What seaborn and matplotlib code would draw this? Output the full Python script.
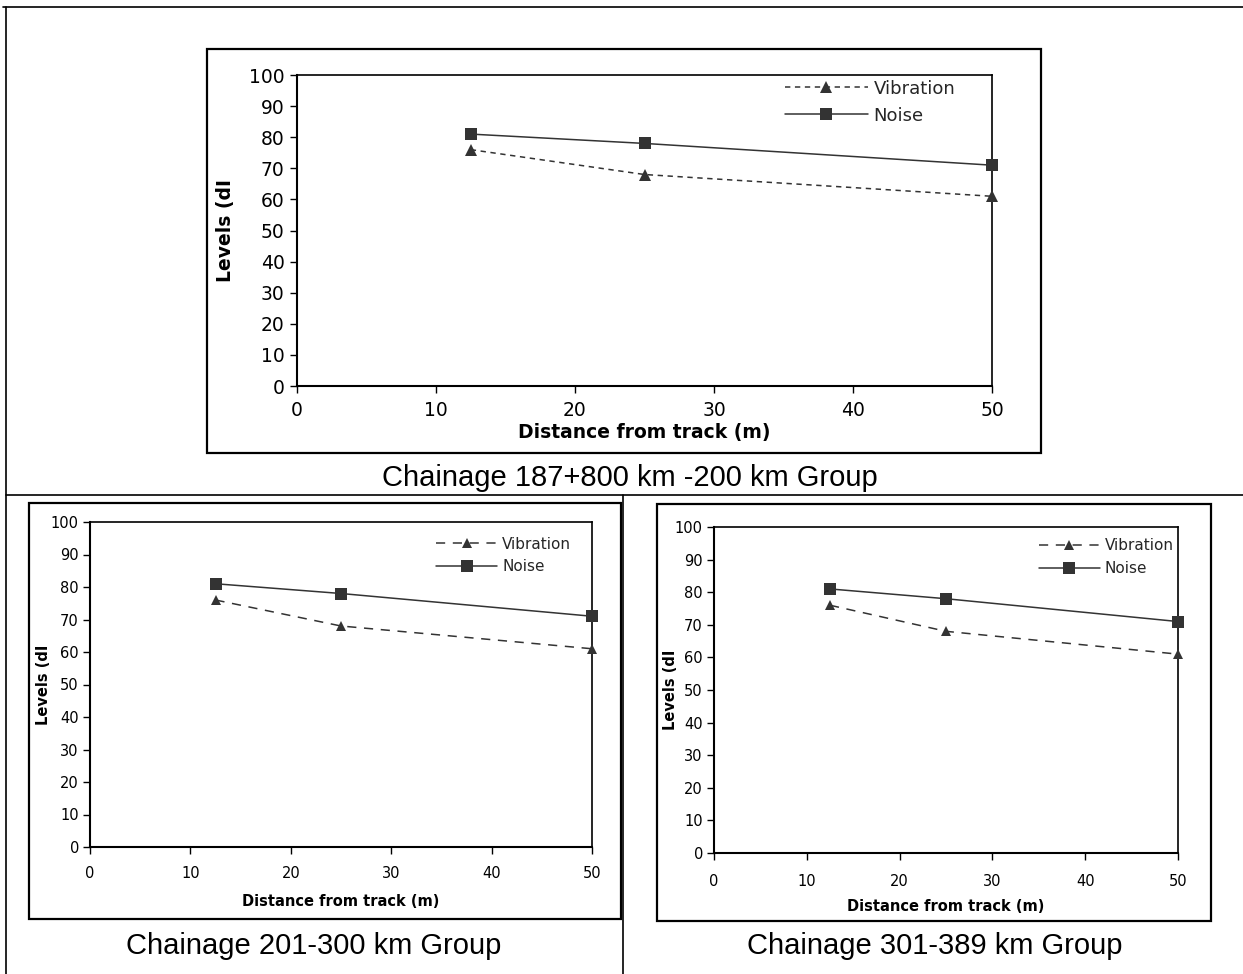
import matplotlib
matplotlib.use("Agg")
import matplotlib.pyplot as plt
import seaborn as sns
import pandas as pd
from matplotlib.lines import Line2D
from matplotlib.patches import Rectangle

# ---------------- data ----------------
distance = [12.5, 25, 50]
vibration = [76, 68, 61]
noise = [81, 78, 71]
series_names = ["Vibration", "Noise"]
captions = ["Chainage 187+800 km -200 km Group",
            "Chainage 201-300 km Group",
            "Chainage 301-389 km Group"]
x_label = "Distance from track (m)"
y_label = "Levels (dI"
x_ticks = [0, 10, 20, 30, 40, 50]
y_ticks = [0, 10, 20, 30, 40, 50, 60, 70, 80, 90, 100]

sns.set_theme(style="white")
plt.rcParams['font.family'] = ['DejaVu Sans']

W, H = 1243, 974
fig = plt.figure(figsize=(W / 100, H / 100), dpi=100)
fig.patch.set_facecolor("white")


def fx(x):
    return x / W


def fy(y):
    return 1 - y / H


def add_line(x0, y0, x1, y1, lw=1.2):
    fig.add_artist(Line2D([fx(x0), fx(x1)], [fy(y0), fy(y1)],
                          transform=fig.transFigure, color="black", lw=lw))


# table grid
add_line(3, 7, 1243, 7)
add_line(6, 7, 6, 974)
add_line(6, 495, 1243, 495)
add_line(623, 495, 623, 974)

df = pd.DataFrame({
    "distance": distance * 2,
    "level": vibration + noise,
    "series": [series_names[0]] * 3 + [series_names[1]] * 3,
})

panels = [
    dict(box=(207, 49, 1041, 453), plot=(297, 75, 992, 386), tfs=13.5, lfs=13.5,
         ms=(8, 9), dash=(3.5, 3.0), leg=(0.702, 0.985), lgfs=13, hl=4.6,
         cap=(630, 478), cfs=21, xlp=6, ylp=4, xlabpad=2, ylx=235),
    dict(box=(29, 503, 621, 919), plot=(90, 522, 592, 847), tfs=10.5, lfs=10.5,
         ms=(6.5, 8), dash=(6.0, 5.0), leg=(0.69, 0.955), lgfs=11, hl=4.0,
         cap=(314, 946), cfs=21, xlp=9, ylp=3, xlabpad=9, ylx=51),
    dict(box=(657, 504, 1211, 921), plot=(714, 527, 1178, 853), tfs=10.5, lfs=10.5,
         ms=(6.5, 8), dash=(6.0, 5.0), leg=(0.70, 0.965), lgfs=11, hl=4.0,
         cap=(935, 946), cfs=21, xlp=10, ylp=3, xlabpad=7, ylx=678),
]

for i, p in enumerate(panels):
    bx0, by0, bx1, by1 = p["box"]
    fig.add_artist(Rectangle((fx(bx0), fy(by1)), fx(bx1 - bx0), (by1 - by0) / H,
                             transform=fig.transFigure, fill=False,
                             edgecolor="black", lw=1.6))
    px0, py0, px1, py1 = p["plot"]
    ax = fig.add_axes([fx(px0), fy(py1), fx(px1 - px0), (py1 - py0) / H])
    ax.set_facecolor("white")

    sns.lineplot(data=df, x="distance", y="level", hue="series", style="series",
                 palette={"Vibration": "#333333", "Noise": "#333333"},
                 markers={"Vibration": "^", "Noise": "s"},
                 dashes={"Vibration": p["dash"], "Noise": ""},
                 ax=ax, legend=False, linewidth=1.1, markeredgewidth=0)
    for ln in ax.get_lines():
        ln.set_clip_on(False)
        ln.set_zorder(5)
        if ln.get_marker() == "^":
            ln.set_markersize(p["ms"][0])
        else:
            ln.set_markersize(p["ms"][1])

    ax.set_xlim(0, 50)
    ax.set_ylim(0, 100)
    ax.set_xticks(x_ticks)
    ax.set_yticks(y_ticks)
    ax.set_xticklabels([str(t) for t in x_ticks], fontsize=p["tfs"])
    ax.set_yticklabels([str(t) for t in y_ticks], fontsize=p["tfs"])
    ax.tick_params(axis="both", direction="out", length=5, width=1.0,
                   color="black", labelcolor="black", bottom=True, left=True)
    ax.tick_params(axis="x", pad=p["xlp"])
    ax.tick_params(axis="y", pad=p["ylp"])
    for s in ax.spines.values():
        s.set_visible(True)
        s.set_color("black")
        s.set_linewidth(1.2)
    ax.spines["left"].set_linewidth(1.5)
    ax.spines["bottom"].set_linewidth(1.5)
    ax.set_xlabel(x_label, fontsize=p["lfs"], fontweight="bold", color="black",
                  labelpad=p["xlabpad"])
    ax.set_ylabel(y_label, fontsize=p["lfs"], fontweight="bold", color="black")
    ax.yaxis.set_label_coords((p["ylx"] - px0) / (px1 - px0), 0.5)

    handles = [
        Line2D([], [], color="#333333", lw=1.1, linestyle=(0, p["dash"]),
               marker="^", markersize=p["ms"][0], markeredgewidth=0),
        Line2D([], [], color="#333333", lw=1.1, linestyle="-",
               marker="s", markersize=p["ms"][1], markeredgewidth=0),
    ]
    ax.legend(handles, series_names, loc="upper left", bbox_to_anchor=p["leg"],
              frameon=False, fontsize=p["lgfs"], handlelength=p["hl"],
              handletextpad=0.3, borderpad=0, borderaxespad=0, labelspacing=0.5)

    cx, cy = p["cap"]
    fig.text(fx(cx), fy(cy), captions[i], ha="center", va="center",
             fontsize=p["cfs"], family=["Liberation Sans Narrow", "Liberation Sans"],
             color="black")

fig.savefig("out.png", dpi=100, facecolor="white")
